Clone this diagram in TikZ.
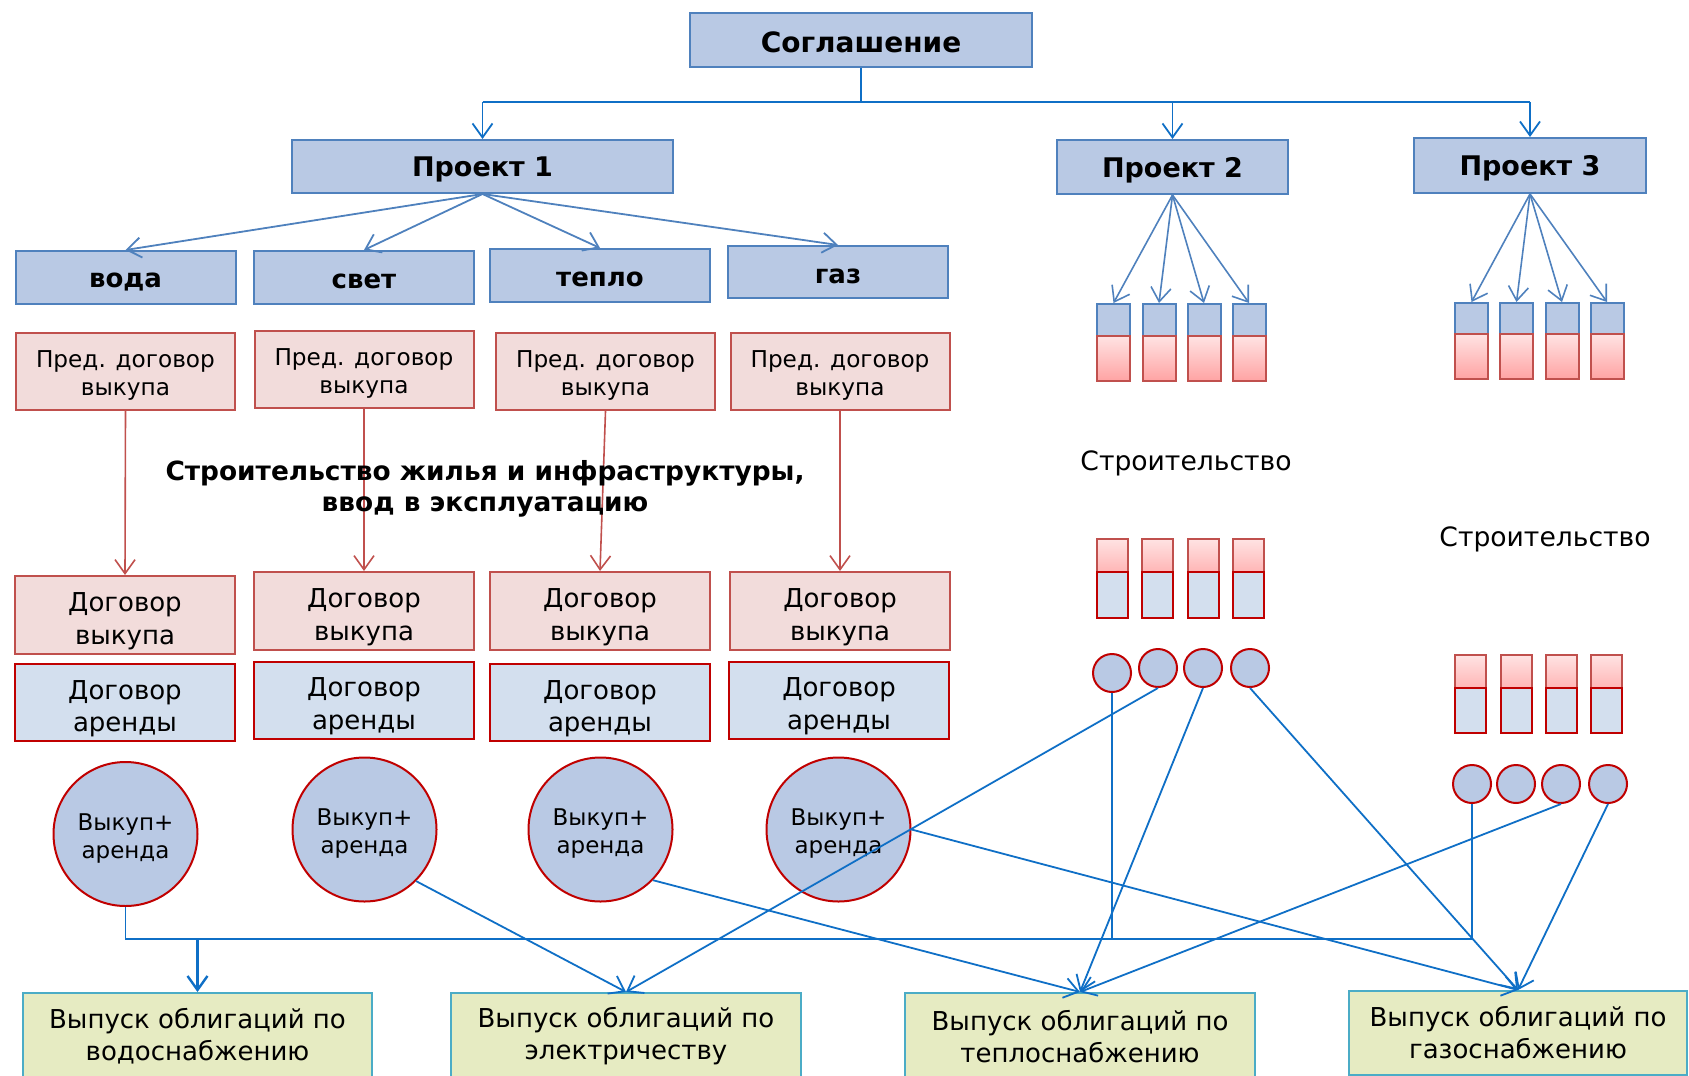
\documentclass[tikz,border=0pt]{standalone}
\usepackage{fontspec}
\setmainfont{DejaVu Sans}
\usetikzlibrary{arrows.meta}
\definecolor{bfill}{HTML}{B9C9E4}
\definecolor{bline}{HTML}{4F81BD}
\definecolor{pfill}{HTML}{F2DCDB}
\definecolor{pline}{HTML}{C0504D}
\definecolor{dred}{HTML}{C00000}
\definecolor{lfill}{HTML}{D3DFEE}
\definecolor{gfill}{HTML}{E6EBC2}
\definecolor{gline}{HTML}{4BACC6}
\definecolor{conn}{HTML}{0F6FC6}
\definecolor{rtop}{HTML}{FFE3E3}
\definecolor{rbot}{HTML}{FFA3A3}
\begin{document}
\begin{tikzpicture}[x=0.5pt,y=-0.5pt,
  tip/.tip={Straight Barb[length=7pt,width=10pt]},
  blubox/.style={draw=bline, fill=bfill, line width=1pt, inner sep=0pt},
  btxt/.style={font=\fontsize{13.5pt}{16pt}\selectfont\bfseries, yshift=-1.6pt},
  subbox/.style={draw=bline, fill=bfill, line width=1pt, inner sep=0pt, minimum width=110pt, minimum height=26.5pt},
  subtxt/.style={font=\fontsize{13pt}{16pt}\selectfont\bfseries, yshift=-2.2pt},
  predbox/.style={draw=pline, fill=pfill, line width=1pt, inner sep=0pt, minimum width=109.5pt, minimum height=38.5pt},
  predtxt/.style={align=center, font=\fontsize{11.6pt}{14pt}\selectfont, yshift=-2.2pt},
  dvbox/.style={draw=pline, fill=pfill, line width=1pt, inner sep=0pt, minimum width=110pt, minimum height=39pt},
  dabox/.style={draw=dred, fill=lfill, line width=1pt, inner sep=0pt, minimum width=110pt, minimum height=38.5pt},
  dtxt/.style={align=center, font=\fontsize{13pt}{16.3pt}\selectfont, yshift=-3.2pt},
  vcirc/.style={circle, draw=dred, fill=bfill, line width=1pt, inner sep=0pt, minimum size=72pt},
  vtxt/.style={align=center, font=\fontsize{11.5pt}{14pt}\selectfont, yshift=-2pt},
  scirc/.style={circle, draw=dred, fill=bfill, line width=1pt, inner sep=0pt, minimum size=19pt},
  topbar/.style={draw=bline, fill=bfill, line width=1pt, inner sep=0pt, minimum width=16.5pt},
  redbar/.style={draw=pline, top color=rtop, bottom color=rbot, line width=1pt, inner sep=0pt, minimum width=16.5pt},
  lowred/.style={draw=pline, top color=rtop, bottom color=rbot!80!white, line width=1pt, inner sep=0pt, minimum width=15.5pt, minimum height=16.5pt},
  lowblue/.style={draw=dred, fill=lfill, line width=1pt, inner sep=0pt, minimum width=15.5pt},
  botbox/.style={draw=gline, fill=gfill, line width=1pt, inner sep=0pt, align=center, font=\fontsize{13pt}{16pt}\selectfont},
  topline/.style={draw=conn, line width=1.3pt},
  p1arrow/.style={draw=bline, line width=0.9pt, -tip},
  redarrow/.style={draw=pline, line width=0.8pt, -tip},
  connthin/.style={draw=conn, line width=0.7pt},
  connthick/.style={draw=conn, line width=1.2pt},
  connarrow/.style={draw=conn, line width=0.9pt, -tip},
  plain/.style={font=\fontsize{13.3pt}{16pt}\selectfont},
  boldmid/.style={align=center, font=\fontsize{13.2pt}{15.6pt}\selectfont\bfseries}
]
\useasboundingbox (0,0) rectangle (1689,1075);
\clip (0,0) rectangle (1689,1075);

% top level
\node[blubox, minimum width=171pt, minimum height=27pt, label={[btxt, font=\fontsize{14pt}{16pt}\selectfont\bfseries, yshift=0.6pt]center:Соглашение}] (sog) at (861,40) {};
\node[blubox, minimum width=190.5pt, minimum height=26.5pt, label={[btxt]center:Проект 1}] (p1) at (482.5,166.5) {};
\node[blubox, minimum width=115.5pt, minimum height=27pt, label={[btxt]center:Проект 2}] (p2) at (1172.5,167) {};
\node[blubox, minimum width=116pt, minimum height=27.5pt, label={[btxt]center:Проект 3}] (p3) at (1530,165.5) {};

\coordinate (busTop) at (0,102);
\draw[topline] (sog.south) -- (sog.south |- busTop);
\draw[topline] (p1.north |- busTop) -- (p3.north |- busTop);
\draw[topline, line width=0.9pt, -tip] (p1.north |- busTop) -- (p1.north);
\draw[topline, line width=0.9pt, -tip] (p2.north |- busTop) -- (p2.north);
\draw[topline, line width=0.9pt, -tip] (p3.north |- busTop) -- (p3.north);

% utilities
\node[subbox, label={[subtxt]center:вода}] (w) at (125.5,277.5) {};
\node[subbox, label={[subtxt]center:свет}] (s) at (364,277.5) {};
\node[subbox, label={[subtxt]center:тепло}] (t) at (600,275.5) {};
\node[subbox, minimum height=26pt, label={[subtxt]center:газ}] (g) at (838,272) {};
\draw[p1arrow] (p1.south) -- (w.north);
\draw[p1arrow] (p1.south) -- (s.north);
\draw[p1arrow] (p1.south) -- (t.north);
\draw[p1arrow] (p1.south) -- (g.north);

% preliminary contracts
\node[predbox, label={[predtxt]center:Пред. договор\\выкупа}] (pr1) at (125.5,371.5) {};
\node[predbox, label={[predtxt]center:Пред. договор\\выкупа}] (pr2) at (364,369.5) {};
\node[predbox, label={[predtxt]center:Пред. договор\\выкупа}] (pr3) at (605.5,371.5) {};
\node[predbox, label={[predtxt]center:Пред. договор\\выкупа}] (pr4) at (840,371.5) {};

\node[dvbox, label={[dtxt]center:Договор\\выкупа}] (dv1) at (125,615) {};
\node[dvbox, label={[dtxt]center:Договор\\выкупа}] (dv2) at (364,611) {};
\node[dvbox, label={[dtxt]center:Договор\\выкупа}] (dv3) at (600,611) {};
\node[dvbox, label={[dtxt]center:Договор\\выкупа}] (dv4) at (840,611) {};

\draw[redarrow] (pr1.south) -- (dv1.north);
\draw[redarrow] (pr2.south) -- (dv2.north);
\draw[redarrow] (pr3.south) -- (dv3.north);
\draw[redarrow] (pr4.south) -- (dv4.north);

\node[boldmid, yshift=-1pt] (mid) at (485,487) {Строительство жилья и инфраструктуры,\\ввод в эксплуатацию};

\node[dabox, label={[dtxt]center:Договор\\аренды}] (da1) at (125,702.5) {};
\node[dabox, label={[dtxt]center:Договор\\аренды}] (da2) at (364,700) {};
\node[dabox, label={[dtxt]center:Договор\\аренды}] (da3) at (600,702.5) {};
\node[dabox, label={[dtxt]center:Договор\\аренды}] (da4) at (839,700) {};

\node[vcirc, label={[vtxt]center:Выкуп+\\аренда}] (vc1) at (125.5,834) {};
\node[vcirc, label={[vtxt]center:Выкуп+\\аренда}] (vc2) at (364.5,829.5) {};
\node[vcirc, label={[vtxt]center:Выкуп+\\аренда}] (vc3) at (600.5,829.5) {};
\node[vcirc, label={[vtxt]center:Выкуп+\\аренда}] (vc4) at (838.5,829.5) {};

% project 2 bars
\foreach \x [count=\i] in {1113.5,1159,1204,1249} {
  \node[topbar, minimum height=16pt] (a\i) at (\x,320) {};
  \node[redbar, minimum height=22.5pt] (ar\i) at (\x,358.5) {};
  \draw[p1arrow, line width=0.8pt] (p2.south) -- (a\i.north);
}
% project 3 bars
\foreach \x [count=\i] in {1471.5,1516.5,1562,1607} {
  \node[topbar, minimum height=15.5pt] (c\i) at (\x,318.5) {};
  \node[redbar, minimum height=22.5pt] (cr\i) at (\x,356.5) {};
  \draw[p1arrow, line width=0.8pt] (p3.south) -- (c\i.north);
}

\node[plain, yshift=-1.5pt] (st2) at (1186,460) {Строительство};
\node[plain, yshift=-1.5pt] (st3) at (1545,536) {Строительство};

% project 2 lower bars
\foreach \x [count=\i] in {1112.5,1157.5,1203,1248.5} {
  \node[lowred] (e\i) at (\x,555.5) {};
  \node[lowblue, minimum height=23pt] (eb\i) at (\x,595) {};
}
% project 3 lower bars
\foreach \x [count=\i] in {1470.5,1516,1561.5,1606.5} {
  \node[lowred] (f\i) at (\x,671.5) {};
  \node[lowblue, minimum height=22.5pt] (fb\i) at (\x,710.5) {};
}

% small circles
\node[scirc] (q1) at (1112,673) {};
\node[scirc] (q2) at (1158,668) {};
\node[scirc] (q3) at (1203,668) {};
\node[scirc] (q4) at (1250,668) {};
\node[scirc] (r1) at (1472,784) {};
\node[scirc] (r2) at (1516,784) {};
\node[scirc] (r3) at (1561,784) {};
\node[scirc] (r4) at (1608,784) {};

% bond boxes
\node[botbox, minimum width=174.5pt, minimum height=43.5pt] (b1) at (197.5,1036.5) {Выпуск облигаций по\\водоснабжению};
\node[botbox, minimum width=175pt, minimum height=43.5pt] (b2) at (626,1036.5) {Выпуск облигаций по\\электричеству};
\node[botbox, minimum width=175pt, minimum height=43.5pt] (b3) at (1080,1036.5) {Выпуск облигаций по\\теплоснабжению};
\node[botbox, minimum width=169pt, minimum height=42pt] (b4) at (1518,1033) {Выпуск облигаций по\\газоснабжению};

% connectors
\coordinate (busY) at (0,939);
\draw[connthin] (q1.south) -- (q1.south |- busY);
\draw[connthin] (r1.south) -- (r1.south |- busY);
\draw[connthin] (vc1.south) |- (b1.north |- busY);
\draw[connthick] (b1.north |- busY) -- (r1.south |- busY);
\draw[connthick, -tip] (b1.north |- busY) -- (b1.north);

\draw[connarrow] (vc2.-45) -- (b2.north);
\draw[connarrow] (q2.south) -- (b2.north);
\draw[connarrow] (vc3.-44) -- (b3.north);
\draw[connarrow] (q3.south) -- (b3.north);
\draw[connarrow] (r3.south) -- (b3.north);
\draw[connarrow] (vc4.east) -- (b4.north);
\draw[connarrow] (q4.south) -- (b4.north);
\draw[connarrow] (r4.south) -- (b4.north);
\end{tikzpicture}
\end{document}
